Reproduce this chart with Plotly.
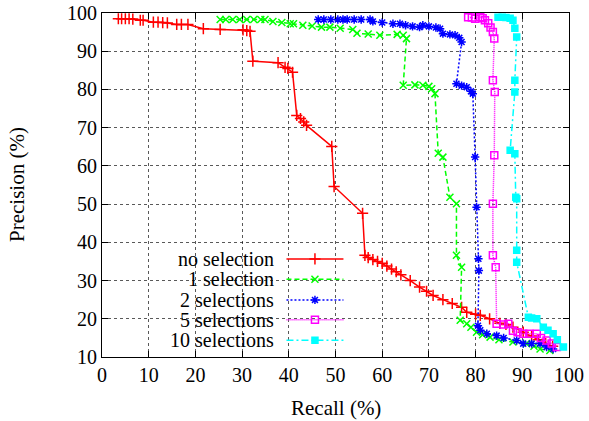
import plotly.graph_objects as go

# ---------------- data ----------------
red_x = [3.5, 4.2, 5, 5.8, 6.6, 8.2, 8.8, 11, 12, 13, 14, 16, 17, 18.4, 21.7, 25.3, 30.2, 31, 31.7,
         32.3, 37.7, 39.2, 39.8, 40.8, 41.7, 42.5, 43.2, 43.8, 49.2, 49.7, 55.8, 56.3, 57, 58, 59, 60,
         61, 62, 63, 64, 66, 68, 69.5, 70.9, 73, 75, 77, 78.1, 80, 81, 83, 85.2, 86.5, 88, 90.2, 92,
         93.5, 95, 96.5]
red_y = [98.5, 98.5, 98.5, 98.5, 98.4, 98.1, 98.1, 97.6, 97.6, 97.5, 97.4, 97, 97, 97, 95.9, 95.7,
         95.6, 95.4, 95.2, 87.4, 87, 85.8, 85.5, 84.5, 73.2, 72.4, 71.5, 70.6, 65.1, 54.6, 47.6, 36.6,
         36, 35.5, 35, 34.5, 33.8, 33, 32.3, 31.5, 30, 28.3, 27.2, 26.1, 25, 24, 23, 21.7, 21.2, 20.9,
         20, 18.8, 18.5, 17.8, 16.5, 15.5, 14.5, 13.5, 12.8]

green_x = [25.3, 26.5, 28, 29.5, 31, 32.5, 34, 34.9, 36.6, 38.5, 40.3, 41, 43, 45, 47, 48.8, 51,
           53.7, 54.6, 57, 59.5, 63.2, 64.5, 65.2, 64.5, 67, 68.7, 70, 70.6, 71.3, 72, 73, 74.5,
           75.9, 75.9, 77, 76.7, 78.1, 79, 80.2, 81.5, 83.1, 85, 88, 90.9, 92.5, 93.8, 95.9]
green_y = [98.3, 98.3, 98.3, 98.3, 98.3, 98.3, 98.3, 98.3, 97.8, 97.5, 97.2, 97.2, 96.8, 96.6, 96.3,
           96.3, 96, 95.7, 94.7, 94.5, 94.2, 94.4, 94.2, 93.3, 81.1, 81.2, 81.1, 80.8, 80.2, 78.9,
           63.3, 62.3, 51.8, 50.1, 36.6, 33.5, 19.6, 18.7, 17.8, 16.5, 15.8, 15.2, 14.5, 13.9, 13.5,
           12.8, 12.1, 11.7]

blue_x = [46.3, 47.5, 49, 50.5, 51.6, 52.5, 54, 55.5, 57.4, 58, 60, 62.3, 63.8, 65, 66.5, 68, 68.7,
          70, 71.5, 72.4, 73, 74.5, 75.6, 76.5, 77, 75.9, 77, 78.1, 79, 79.4, 79.9, 80.2, 80.6, 80.7,
          80.5, 81, 82.4, 84.5, 86, 88.8, 90.2, 92, 93.8, 95.2, 96.6]
blue_y = [98.3, 98.3, 98.3, 98.3, 98.3, 98.3, 98.3, 98.3, 98.3, 97.8, 97.5, 97.2, 97.2, 96.8, 96.5,
          96.3, 96.8, 96.5, 96.2, 95.9, 94.6, 94.4, 94.2, 93.5, 92.4, 81.5, 81, 80.6, 79.5, 78.9,
          62.3, 49.2, 35.7, 32.6, 18.2, 17, 16.1, 15.6, 15, 14.3, 13.5, 13.5, 13.5, 12.6, 12.1]

magenta_x = [78.4, 79.2, 79.9, 81, 81.5, 82, 82.7, 83.2, 83.7, 84, 83.7, 84.1, 84, 83.7, 83.7, 84.3,
             84.5, 86, 87, 88, 89, 90.2, 91.5, 93.1, 94, 95.2, 96.3, 97.4]
magenta_y = [98.9, 98.8, 98.5, 98.9, 98.6, 98.1, 97.3, 96.2, 95, 93.3, 82.4, 79.3, 62.8, 50.1, 36.6,
             33.5, 18.7, 18.5, 18.7, 16.9, 16.5, 16.1, 16.1, 16.1, 15, 14.3, 13.5, 12.6]

cyan_x = [84.8, 85.7, 86.5, 87.4, 88, 88.4, 88.8, 88.4, 88.4, 87.4, 88.4, 88.6, 88.8, 88.8, 88.8,
          91.3, 92, 93.1, 94.5, 95.5, 96.6, 97.5, 98.8]
cyan_y = [98.9, 98.9, 98.8, 98.6, 98.1, 96, 93.7, 82.4, 79.3, 64.1, 63.2, 51.8, 51.4, 37.9, 34.8,
          20.4, 20.2, 20, 17.8, 17, 16.1, 14.5, 12.6]

series_names = ["no selection", "1 selection", "2 selections", "5 selections", "10 selections"]
x_ticks = [0, 10, 20, 30, 40, 50, 60, 70, 80, 90, 100]
y_ticks = [10, 20, 30, 40, 50, 60, 70, 80, 90, 100]

# ---------------- styles ----------------
styles = [
    dict(color="#ff0000", dash="solid", symbol="cross-thin", size=8),
    dict(color="#00ff00", dash="5px,3px", symbol="x-thin", size=7),
    dict(color="#0000ff", dash="2px,2px", symbol="asterisk", size=7),
    dict(color="#ff00ff", dash="1px,1px", symbol="square-open", size=7),
    dict(color="#00ffff", dash="7px,3px,2px,3px", symbol="square", size=6),
]
data = [(red_x, red_y), (green_x, green_y), (blue_x, blue_y), (magenta_x, magenta_y), (cyan_x, cyan_y)]

FONT = "Liberation Serif"
FS = 20
fig = go.Figure()

for (xs, ys), st, name in zip(data, styles, series_names):
    fig.add_trace(go.Scatter(
        x=xs, y=ys, mode="lines+markers", name=name, showlegend=False,
        line=dict(color=st["color"], width=1.5, dash=st["dash"]),
        marker=dict(symbol=st["symbol"], size=st["size"], color=st["color"],
                    line=dict(color=st["color"], width=1.5)),
    ))

# ---------------- manual gnuplot-style key (on overlay axes 0..1) ----------------
key_rows = [0.285, 0.226, 0.166, 0.108, 0.049]
key_x0, key_x1, key_xm, key_text = 0.395, 0.517, 0.456, 0.372
for row, st, name in zip(key_rows, styles, series_names):
    fig.add_trace(go.Scatter(
        x=[key_x0, key_x1], y=[row, row], mode="lines", xaxis="x2", yaxis="y2",
        showlegend=False, hoverinfo="skip",
        line=dict(color=st["color"], width=1.5, dash=st["dash"]),
    ))
    fig.add_trace(go.Scatter(
        x=[key_xm], y=[row], mode="markers", xaxis="x2", yaxis="y2",
        showlegend=False, hoverinfo="skip",
        marker=dict(symbol=st["symbol"], size=st["size"], color=st["color"],
                    line=dict(color=st["color"], width=1.5)),
    ))
    fig.add_annotation(x=key_text, y=row, xref="x2", yref="y2", text=name,
                       showarrow=False, xanchor="right", yanchor="middle",
                       font=dict(family=FONT, size=FS, color="black"))

# white key box hiding the grid
fig.add_shape(type="rect", xref="paper", yref="paper", x0=0, x1=0.546, y0=0, y1=0.323,
              fillcolor="white", line=dict(width=0), layer="between")

# axis titles
fig.add_annotation(x=0.501, y=-0.148, xref="paper", yref="paper", text="Recall (%)",
                   showarrow=False, xanchor="center", yanchor="middle",
                   font=dict(family=FONT, size=FS + 1, color="black"))
fig.add_annotation(x=-0.182, y=0.5, xref="paper", yref="paper", text="Precision (%)",
                   showarrow=False, xanchor="center", yanchor="middle", textangle=-90,
                   font=dict(family=FONT, size=FS + 1, color="black"))

axis_common = dict(
    showline=True, linecolor="black", linewidth=1.2, mirror="ticks",
    ticks="inside", ticklen=6, tickcolor="black", tickwidth=1,
    showgrid=True, gridcolor="rgba(0,0,0,0.65)", griddash="dot", gridwidth=1,
    zeroline=False, automargin=False,
    tickfont=dict(family=FONT, size=FS, color="black"),
)

fig.update_layout(
    width=589, height=421,
    font=dict(family=FONT, size=FS, color="black"),
    margin=dict(l=102, r=20, t=13, b=64, autoexpand=False),
    paper_bgcolor="white", plot_bgcolor="white",
    xaxis=dict(range=[0, 100], tickvals=x_ticks, ticktext=[str(v) for v in x_ticks], **axis_common),
    yaxis=dict(range=[10, 100], tickvals=y_ticks, ticktext=[str(v) for v in y_ticks], **axis_common),
    xaxis2=dict(range=[0, 1], overlaying="x", visible=False, fixedrange=True),
    yaxis2=dict(range=[0, 1], overlaying="y", visible=False, fixedrange=True),
    showlegend=False,
)

fig.write_html("out.html", config={"displayModeBar": False},
               post_script="document.body.style.margin='0';")
